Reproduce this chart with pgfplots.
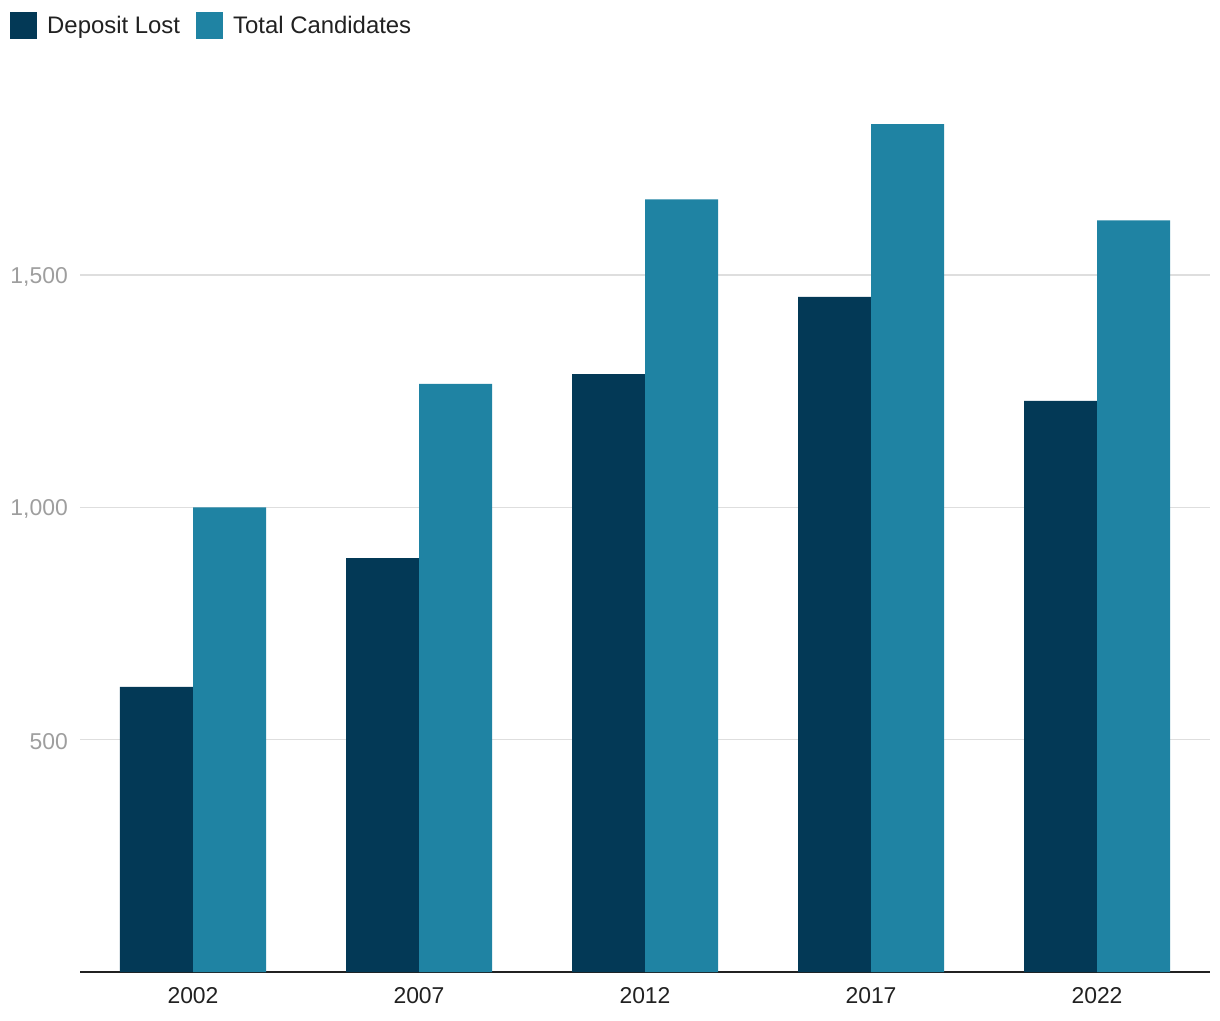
\documentclass[border=0pt]{standalone}
\usepackage{pgfplots}
\pgfplotsset{compat=1.18}
\usepackage{fontspec}
\setmainfont{Liberation Sans}
\definecolor{cdark}{RGB}{3,57,86}
\definecolor{cteal}{RGB}{31,131,163}
\definecolor{cgray}{RGB}{158,158,158}
\definecolor{cgrid}{RGB}{222,222,222}
\definecolor{ctext}{RGB}{33,33,33}
\begin{document}
\begin{tikzpicture}
\begin{axis}[
  scale only axis,
  width=1130bp, height=906bp,
  xmin=-0.5, xmax=4.5, ymin=0, ymax=1950,
  ybar=0pt, bar width=73bp,
  xtick={0,1,2,3,4},
  xticklabels={2002,2007,2012,2017,2022},
  ytick={500,1000,1500},
  ymajorgrids,
  grid style={cgrid, line width=1.4bp},
  axis x line=bottom,
  axis y line=left,
  x axis line style={-, ctext, line width=1.2bp},
  y axis line style={draw=none},
  major tick length=0pt,
  tick style={draw=none},
  /pgf/number format/.cd, 1000 sep={,}, assume math mode=true,
  /pgfplots/.cd,
  xticklabel style={font=\fontsize{23}{27}\selectfont, text=ctext, inner sep=0pt, anchor=north, yshift=-15bp},
  yticklabel style={font=\fontsize{23}{27}\selectfont, text=cgray, inner sep=0pt, anchor=east, xshift=-12bp, yshift=-2bp},
  legend columns=2,
  legend style={at={(0,1)}, anchor=west, xshift=-70bp, yshift=40.5bp, draw=none, inner sep=0pt, font=\fontsize{24}{28}\selectfont, text=ctext,
    nodes={inner sep=0pt, anchor=west},
    /tikz/every odd column/.append style={column sep=10bp},
    /tikz/every even column/.append style={column sep=16bp}},
  legend image code/.code={\draw[#1, draw=none] (0bp,-13.5bp) rectangle (27bp,13.5bp);},
]
\coordinate (sw) at (rel axis cs:0,0);
\coordinate (ne) at (rel axis cs:1,1);
\addplot[fill=cdark, draw=none] coordinates {(0,614) (1,891) (2,1287) (3,1453) (4,1229)};
\addplot[fill=cteal, draw=none] coordinates {(0,1000) (1,1266) (2,1663) (3,1825) (4,1618)};
\legend{Deposit Lost, Total Candidates}
\end{axis}
\pgfresetboundingbox
\path ([shift={(-80bp,-48bp)}]sw) rectangle ([shift={(10bp,66bp)}]ne);
\end{tikzpicture}
\end{document}
